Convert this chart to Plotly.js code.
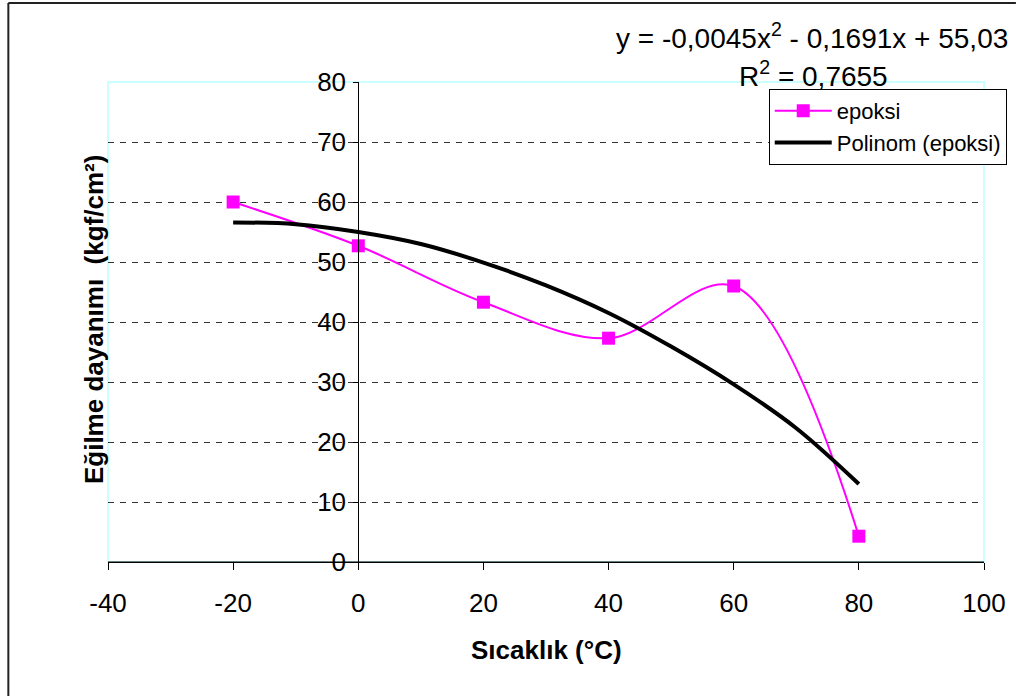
<!DOCTYPE html>
<html>
<head>
<meta charset="utf-8">
<script src="https://cdn.plot.ly/plotly-3.0.1.min.js"></script>
<style>html,body{margin:0;padding:0;background:#fff;}#chart{width:1019px;height:696px;}</style>
</head>
<body>
<div id="chart"></div>
<script>
// Data
const temps = [-20, 0, 20, 40, 60, 80];
const epoksi = [60.0, 52.7, 43.3, 37.3, 46.0, 4.3];
const trendX = [-20, -10, 0, 10, 20, 30, 40, 50, 60, 70, 80];
const trendY = [56.6, 56.3, 55.0, 53.0, 49.9, 46.1, 41.5, 35.9, 29.6, 22.3, 13.0];
const xTicks = [-40, -20, 0, 20, 40, 60, 80, 100];
const yTicks = [0, 10, 20, 30, 40, 50, 60, 70, 80];
const seriesName = 'epoksi';
const trendName = 'Polinom (epoksi)';
const equationText = 'y = -0,0045x<sup>2</sup> - 0,1691x + 55,03';
const r2Text = 'R<sup>2</sup> = 0,7655';
const xTitle = 'Sıcaklık (°C)';
const yTitle = 'Eğilme dayanımı  (kgf/cm²)';

const font = 'Liberation Sans, Arial, sans-serif';
const W = 1019, H = 696, L = 108, R = 32, T = 82, B = 134;
const pw = W - L - R, ph = H - T - B;
const px = v => (v - L) / pw;
const py = v => (H - B - v) / ph;

const traces = [
  {
    x: temps, y: epoksi, name: seriesName, type: 'scatter', mode: 'lines+markers',
    line: {color: '#FF00FF', width: 2, shape: 'spline', smoothing: 1},
    marker: {symbol: 'square', size: 13, color: '#FF00FF'},
    cliponaxis: false
  },
  {
    x: trendX, y: trendY, name: trendName, type: 'scatter', mode: 'lines',
    line: {color: '#000000', width: 4, shape: 'spline', smoothing: 1},
    cliponaxis: false
  }
];

const layout = {
  width: W, height: H,
  margin: {l: L, r: R, t: T, b: B, pad: 0},
  paper_bgcolor: '#fff', plot_bgcolor: '#fff',
  font: {family: font, color: '#000', size: 26},
  showlegend: true,
  xaxis: {
    range: [-40, 100], tickvals: xTicks, ticktext: xTicks.map(String),
    showgrid: false, zeroline: false,
    showline: true, linecolor: '#000', linewidth: 1,
    ticks: 'outside', ticklen: 7, tickcolor: '#000',
    tickfont: {size: 26, family: font}, ticklabelstandoff: 11
  },
  yaxis: {
    range: [0, 80], tickvals: yTicks, ticktext: yTicks.map(String),
    anchor: 'free', position: 40/140,
    showgrid: true, gridcolor: '#333', griddash: '6px,6px', gridwidth: 1,
    zeroline: false, showline: true, linecolor: '#000', linewidth: 1,
    ticks: 'outside', ticklen: 5, tickcolor: '#000',
    tickfont: {size: 26, family: font}, ticklabelstandoff: 2
  },
  shapes: [
    {type: 'rect', xref: 'paper', yref: 'paper', x0: 0, x1: 1, y0: 0, y1: 1,
     line: {color: '#ccffff', width: 2}, layer: 'below'},
    {type: 'line', xref: 'paper', yref: 'paper', x0: 0, x1: 1, y0: 0, y1: 0,
     line: {color: '#000', width: 1}},
    {type: 'line', xref: 'paper', yref: 'paper', x0: px(8), x1: px(1019), y0: py(3), y1: py(3),
     line: {color: '#222', width: 2}},
    {type: 'line', xref: 'paper', yref: 'paper', x0: px(8), x1: px(8), y0: py(3), y1: py(700),
     line: {color: '#222', width: 2}}
  ],
  annotations: [
    {xref: 'paper', yref: 'paper', x: px(1013), y: py(36), xanchor: 'right', yanchor: 'middle',
     text: equationText, showarrow: false, font: {size: 28, family: font}},
    {xref: 'paper', yref: 'paper', x: px(816), y: py(74), xanchor: 'center', yanchor: 'middle',
     text: r2Text, showarrow: false, font: {size: 28, family: font}},
    {xref: 'paper', yref: 'paper', x: px(548), y: py(650), xanchor: 'center', yanchor: 'middle',
     text: '<b>' + xTitle + '</b>', showarrow: false, font: {size: 26, family: font}},
    {xref: 'paper', yref: 'paper', x: px(94), y: py(320), xanchor: 'center', yanchor: 'middle',
     text: '<b>' + yTitle + '</b>', textangle: -90, showarrow: false, font: {size: 26, family: font}}
  ],
  legend: {
    x: px(771), y: py(89), xanchor: 'left', yanchor: 'top',
    bgcolor: '#fff', bordercolor: '#000', borderwidth: 1,
    font: {size: 22, family: font}, itemwidth: 57, tracegroupgap: 0
  }
};

Plotly.newPlot('chart', traces, layout, {displayModeBar: false, staticPlot: true});
</script>
</body>
</html>
